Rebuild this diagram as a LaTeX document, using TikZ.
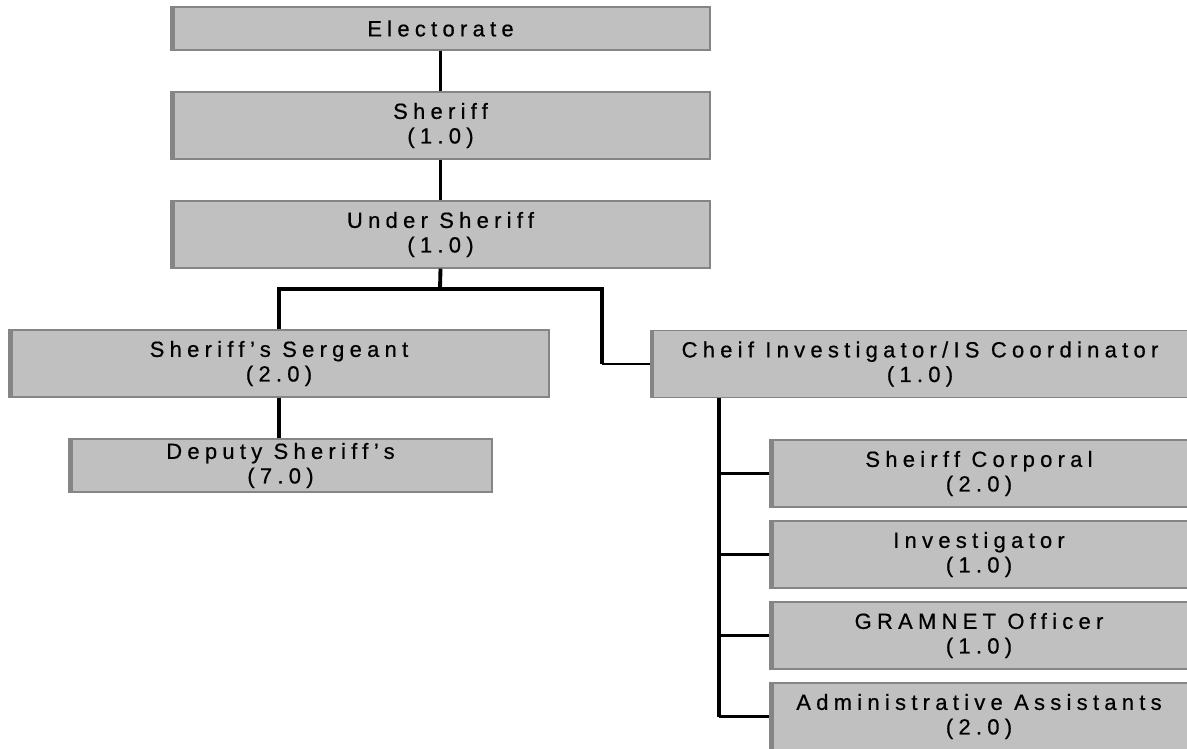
\documentclass[tikz,border=0pt]{standalone}
\usepackage{fontspec}
\setmainfont{Liberation Sans}[LetterSpace=24, FakeBold=0.6]
\usetikzlibrary{positioning}
\definecolor{boxfill}{HTML}{C0C0C0}
\definecolor{boxedge}{HTML}{858585}

\tikzset{
  post/.style={rectangle, fill=boxfill, draw=boxedge, line width=0.8pt,
    align=center, inner sep=0pt, text=black, minimum height=1.34cm,
    font=\fontsize{12.5}{14}\selectfont,
    path picture={\draw[boxedge, line width=4pt]
      (path picture bounding box.north west) -- (path picture bounding box.south west);}},
  widepost/.style={post, minimum width=10.78cm},
  subpost/.style={post, minimum width=8.36cm},
  trunk/.style={line width=2.2pt},
  branch/.style={line width=1.2pt}
}

\begin{document}
\begin{tikzpicture}[x=0.02cm, y=-0.02cm]
	\useasboundingbox (0,0) rectangle (1187,749);
	\clip (0,0) rectangle (1187,749);

	% Top of the chain
	\node[widepost, minimum height=0.86cm] (elect) at (440.5,28.5) {Electorate};
	\node[widepost] (sheriff) at (440.5,125.5) {Sheriff\\(1.0)};
	\node[widepost] (under) at (440.5,234.5) {Under Sheriff\\(1.0)};

	% Left branch
	\node[post, minimum width=10.8cm] (sergeant) at (279,363.5) {Sheriff's Sergeant\\(2.0)};
	\node[post, minimum width=8.46cm, minimum height=1.06cm] (deputy) at (280.5,465.5) {Deputy Sheriff's\\(7.0)};

	% Right branch
	\node[widepost] (chief) at (920,364) {Cheif Investigator/IS Coordinator\\(1.0)};

	\foreach \i/\txt [count=\k from 0] in {1/Sheirff Corporal\\(2.0), 2/Investigator\\(1.0), 3/GRAMNET Officer\\(1.0), 4/Administrative Assistants\\(2.0)} {
		\node[subpost] (c\i) at (979,{473.5+81*\k}) {\txt};
	}

	% Connectors
	\draw[trunk] (elect) -- (sheriff);
	\draw[trunk] (sheriff) -- (under);
	\coordinate (fork) at (440,289);
	\coordinate (forkR) at (602,289);
	\draw[trunk] (under.south) -- (fork);
	\draw[trunk] (sergeant.north) |- (forkR) -- (forkR |- chief.west);
	\draw[branch] (forkR |- chief.west) -- (chief.west);
	\draw[trunk] (sergeant.south) -- (sergeant.south |- deputy.north);

	\coordinate (spine) at (719,398);
	\draw[trunk] (spine) -- (spine |- c4.west);
	\foreach \i in {1,...,4} {
		\draw[branch] (spine |- c\i.west) -- (c\i.west);
	}
\end{tikzpicture}
\end{document}
